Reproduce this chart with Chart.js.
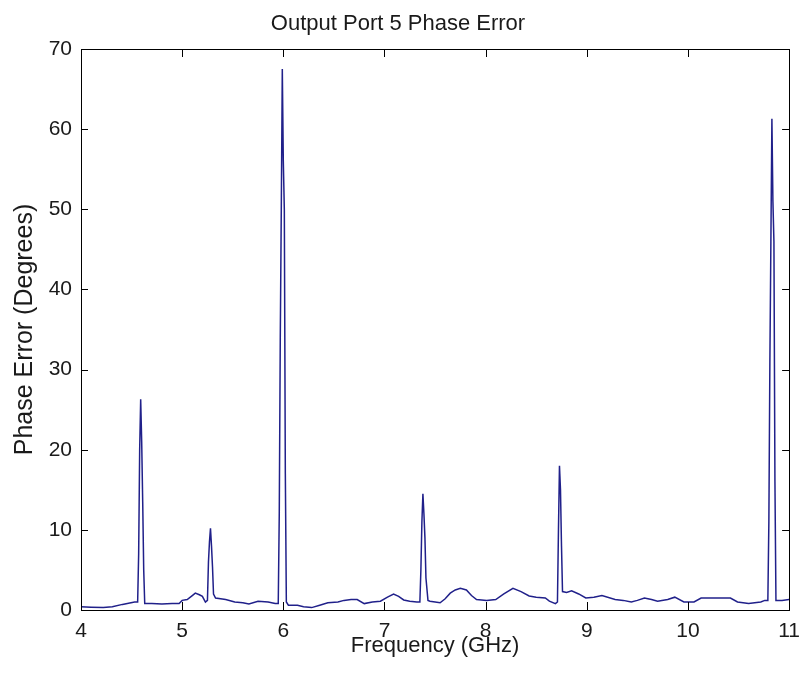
<!DOCTYPE html>
<html>
<head>
<meta charset="utf-8">
<title>Output Port 5 Phase Error</title>
<script src="https://cdn.jsdelivr.net/npm/chart.js@4/dist/chart.umd.min.js"></script>
<style>
  html, body { margin: 0; padding: 0; background: #fff; }
  #wrap { width: 809px; height: 677px; }
</style>
</head>
<body>
<div id="wrap"><canvas id="phaseChart"></canvas></div>
<script>
// sweep frequencies (GHz) and measured phase error (degrees)
const freqGHz = [
  4.00, 4.10, 4.22, 4.31, 4.41, 4.53, 4.56, 4.57, 4.58, 4.59, 4.60, 4.61, 4.62, 4.63,
  4.70, 4.80, 4.90, 4.97, 5.00, 5.05, 5.10, 5.13, 5.17, 5.20, 5.23, 5.25, 5.26, 5.27,
  5.28, 5.29, 5.30, 5.31, 5.33, 5.43, 5.52, 5.60, 5.66, 5.75, 5.85, 5.92, 5.95, 5.96,
  5.97, 5.98, 5.99, 6.00, 6.01, 6.02, 6.03, 6.05, 6.14, 6.20, 6.28, 6.36, 6.44, 6.54,
  6.60, 6.67, 6.73, 6.80, 6.88, 6.96, 7.03, 7.09, 7.14, 7.19, 7.25, 7.32, 7.35, 7.36,
  7.37, 7.38, 7.39, 7.40, 7.41, 7.43, 7.45, 7.55, 7.60, 7.65, 7.70, 7.75, 7.81, 7.86,
  7.91, 8.01, 8.10, 8.18, 8.27, 8.35, 8.43, 8.50, 8.59, 8.63, 8.69, 8.71, 8.72, 8.73,
  8.74, 8.75, 8.76, 8.80, 8.85, 8.92, 8.99, 9.07, 9.15, 9.28, 9.36, 9.44, 9.50, 9.57,
  9.64, 9.70, 9.80, 9.87, 9.96, 10.06, 10.13, 10.19, 10.30, 10.42, 10.49, 10.60, 10.72, 10.76,
  10.79, 10.80, 10.81, 10.82, 10.83, 10.84, 10.85, 10.86, 10.87, 10.93, 11.00
];
const phaseErrDeg = [
  0.4, 0.35, 0.3, 0.4, 0.7, 1.0, 1.0, 7, 20, 26.3, 21, 13.5, 5, 0.8,
  0.8, 0.75, 0.8, 0.8, 1.2, 1.3, 1.8, 2.1, 1.9, 1.7, 1.0, 1.2, 6, 8.5,
  10.2, 8, 5.4, 2, 1.5, 1.3, 1.0, 0.9, 0.75, 1.1, 1.0, 0.8, 0.8, 12,
  34, 50, 67.5, 56, 50, 17, 1.0, 0.6, 0.6, 0.4, 0.3, 0.6, 0.9, 1.0,
  1.2, 1.3, 1.3, 0.8, 1.0, 1.1, 1.6, 2.0, 1.7, 1.25, 1.1, 1.0, 1.0, 5,
  11, 14.5, 12, 9, 4, 1.2, 1.1, 0.9, 1.4, 2.1, 2.5, 2.7, 2.5, 1.8,
  1.3, 1.2, 1.3, 2.0, 2.7, 2.3, 1.75, 1.6, 1.5, 1.1, 0.8, 1.0, 10, 18,
  15, 8, 2.3, 2.2, 2.4, 2.0, 1.5, 1.6, 1.8, 1.3, 1.2, 1.0, 1.2, 1.5,
  1.3, 1.1, 1.3, 1.6, 1.0, 1.0, 1.5, 1.5, 1.5, 1.5, 1.0, 0.8, 1.0, 1.2,
  1.2, 11, 31, 46, 61.3, 51, 46, 16, 1.2, 1.2, 1.3
];

const xTicks = [4, 5, 6, 7, 8, 9, 10, 11];
const yTicks = [0, 10, 20, 30, 40, 50, 60, 70];

const FONT = "'Liberation Sans', Arial, sans-serif";
const INK = '#1a1a1a';

// matlab style box: frame on all four sides, tick marks pointing inwards
const boxTicks = {
  id: 'boxTicks',
  afterDraw(chart) {
    const { ctx, chartArea: a, scales: { x, y } } = chart;
    ctx.save();
    ctx.strokeStyle = '#000';
    ctx.lineWidth = 1;
    ctx.strokeRect(Math.round(a.left) + 0.5, Math.round(a.top) + 0.5,
      Math.round(a.right - a.left), Math.round(a.bottom - a.top));
    ctx.beginPath();
    x.ticks.forEach(t => {
      const px = Math.round(x.getPixelForValue(t.value)) + 0.5;
      ctx.moveTo(px, a.bottom); ctx.lineTo(px, a.bottom - 8);
      ctx.moveTo(px, a.top); ctx.lineTo(px, a.top + 8);
    });
    y.ticks.forEach(t => {
      const py = Math.round(y.getPixelForValue(t.value)) + 0.5;
      ctx.moveTo(a.left, py); ctx.lineTo(a.left + 7, py);
      ctx.moveTo(a.right, py); ctx.lineTo(a.right - 7, py);
    });
    ctx.stroke();
    ctx.restore();
  }
};

new Chart(document.getElementById('phaseChart'), {
  type: 'line',
  data: {
    datasets: [{
      data: freqGHz.map((f, i) => ({ x: f, y: phaseErrDeg[i] })),
      borderColor: '#20208a',
      borderWidth: 1.5,
      pointRadius: 0,
      tension: 0,
      fill: false
    }]
  },
  options: {
    responsive: true,
    maintainAspectRatio: false,
    animation: false,
    layout: { padding: { left: 0, right: 13, top: 0, bottom: 0 } },
    plugins: {
      legend: { display: false },
      tooltip: { enabled: false },
      title: {
        display: true,
        text: 'Output Port 5 Phase Error',
        color: INK,
        font: { family: FONT, size: 22, weight: 'normal' },
        padding: { top: 11, bottom: 11.6 }
      }
    },
    scales: {
      x: {
        type: 'linear',
        min: 4,
        max: 11,
        afterBuildTicks: s => { s.ticks = xTicks.map(v => ({ value: v })); },
        afterFit: s => { s.height = 67; },
        grid: { display: false, drawTicks: false },
        border: { display: false },
        ticks: { color: INK, padding: 9, font: { family: FONT, size: 21 } },
        title: {
          display: true,
          text: 'Frequency (GHz)',
          color: INK,
          font: { family: FONT, size: 22 },
          padding: 18
        }
      },
      y: {
        type: 'linear',
        min: 0,
        max: 70,
        afterBuildTicks: s => { s.ticks = yTicks.map(v => ({ value: v })); },
        afterFit: s => { s.width = 81; },
        grid: { display: false, drawTicks: false },
        border: { display: false },
        ticks: { color: INK, padding: 9, font: { family: FONT, size: 21 } },
        title: {
          display: true,
          text: 'Phase Error (Degrees)',
          color: INK,
          font: { family: FONT, size: 25 },
          padding: 10
        }
      }
    }
  },
  plugins: [boxTicks]
});
</script>
</body>
</html>
